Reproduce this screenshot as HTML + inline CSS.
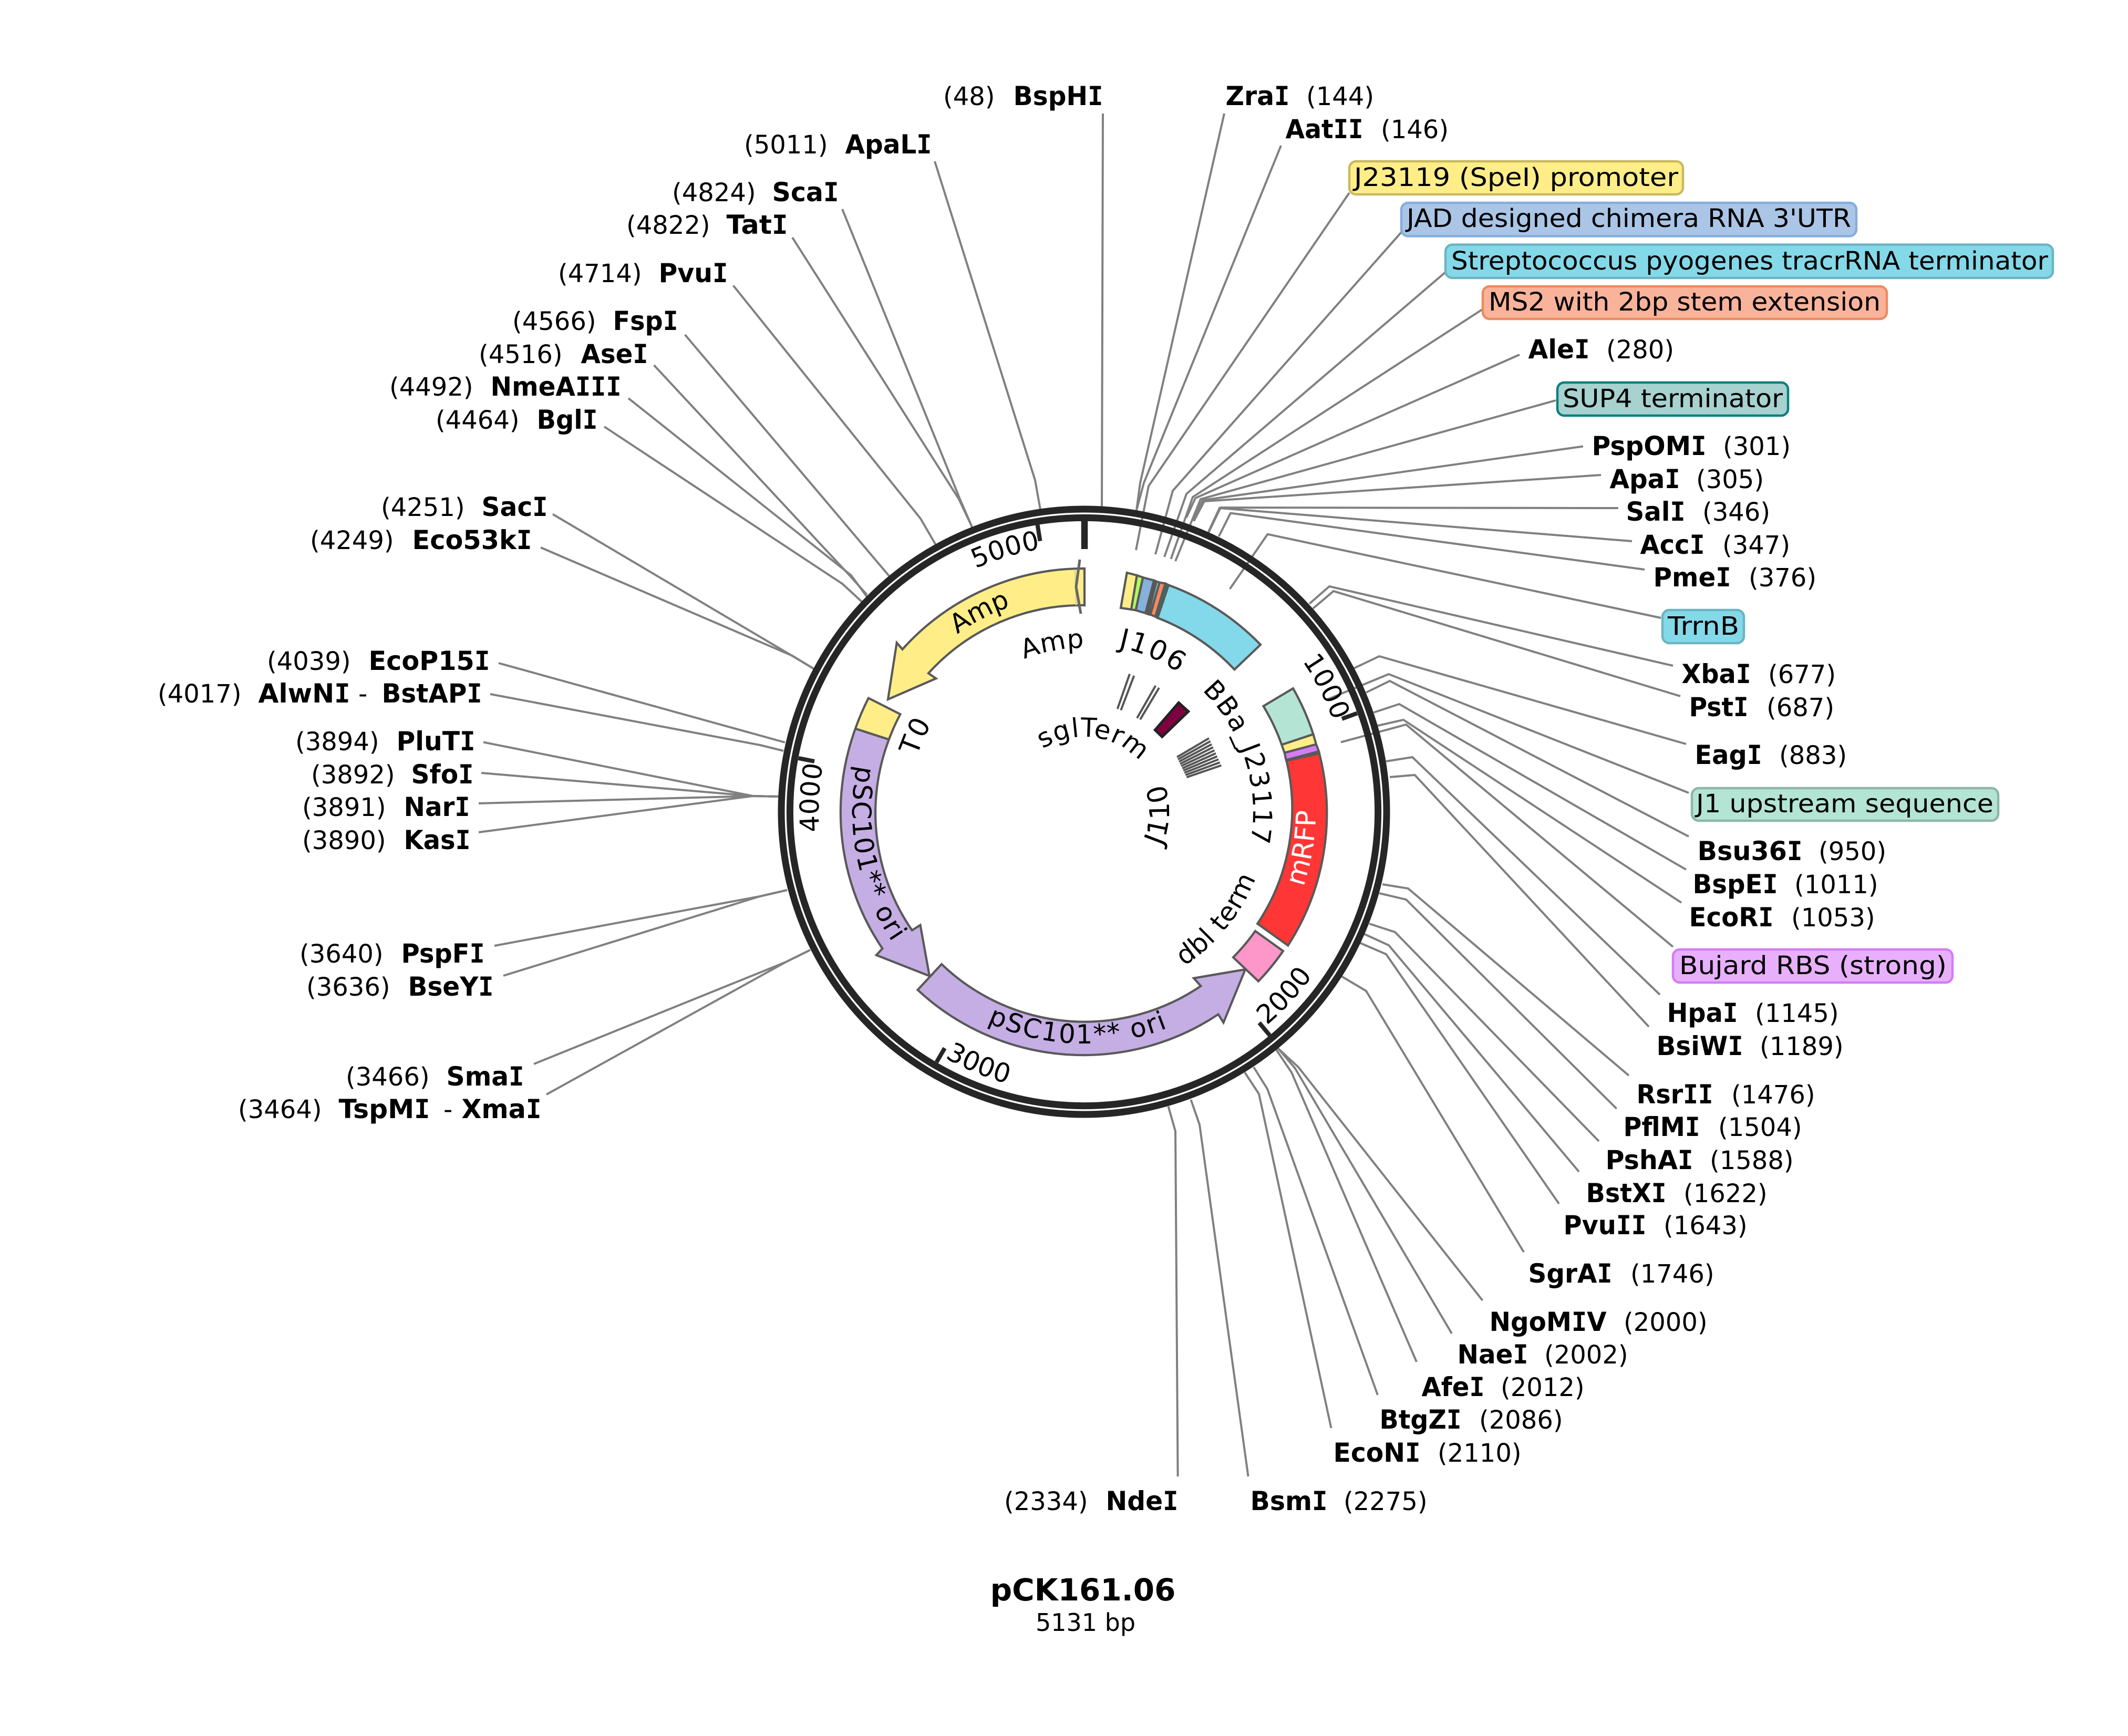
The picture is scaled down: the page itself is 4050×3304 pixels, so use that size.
<!DOCTYPE html>
<html><head><meta charset="utf-8"><title>pCK161.06</title>
<style>
html,body{margin:0;padding:0;background:#fff}
svg{display:block}
text{font-family:"DejaVu Sans","Liberation Sans",sans-serif;fill:#000}
.b{font-weight:bold;font-size:50px}
.n{font-size:48px}
.t{font-size:48px}
.c{font-size:50px}
tspan.m{font-family:"DejaVu Sans Mono","DejaVu Sans",monospace;font-weight:bold}
.l polyline{fill:none;stroke:#808080;stroke-width:4}
.f path,.f polygon{stroke:#595959;stroke-width:4.2;stroke-linejoin:miter}
.s line{stroke:#555;stroke-width:4}
.tk line{stroke:#262626;stroke-width:8}
</style></head><body>
<svg xmlns="http://www.w3.org/2000/svg" width="4050" height="3304" viewBox="0 0 4050 3304">
<defs>
<path id="w507" d="M1556,1545A507 507 0 0 1 2570,1545"/>
<path id="w505" d="M1558,1545A505 505 0 0 1 2568,1545"/>
<path id="w415" d="M1648,1545A415 415 0 0 1 2478,1545"/>
<path id="w312" d="M1751,1545A312 312 0 0 1 2375,1545"/>
<path id="w320" d="M1743,1545A320 320 0 0 1 2383,1545"/>
<path id="w322" d="M1741,1545A322 322 0 0 1 2385,1545"/>
<path id="w143" d="M1920,1545A143 143 0 0 1 2206,1545"/>
<path id="w335" d="M1728,1545A335 335 0 0 1 2398,1545"/>
<path id="i535" d="M1528,1545A535 535 0 0 0 2598,1545"/>
<path id="i538" d="M1525,1545A538 538 0 0 0 2601,1545"/>
<path id="i162" d="M1901,1545A162 162 0 0 0 2225,1545"/>
<path id="i350" d="M1713,1545A350 350 0 0 0 2413,1545"/>
<path id="i441" d="M1622,1545A441 441 0 0 0 2504,1545"/>
</defs>

<!-- leader lines -->
<g class="l">
<polyline points="2330,216 2170,919 2163,971"/>
<polyline points="2438,277 2177,919 2163,971"/>
<polyline points="2568,367 2186,925 2162,1047"/>
<polyline points="2667,442 2232,934 2199,1055"/>
<polyline points="2751,518 2258,940 2216,1060"/>
<polyline points="2821,589 2270,946 2228.5,1064"/>
<polyline points="2892,675 2275,948 2258,985"/>
<polyline points="2961,762 2285,950 2237,1068"/>
<polyline points="3013,849.5 2289,952 2270,990"/>
<polyline points="3047,904 2292,954 2272,992"/>
<polyline points="3080,967 2323,966 2297,1020"/>
<polyline points="3106,1030 2321,967 2300,1012"/>
<polyline points="3130,1084 2342,976.5 2319.6,1021"/>
<polyline points="3161,1176 2412.5,1016.7 2340.6,1121"/>
<polyline points="3184,1267 2530,1116 2492,1149"/>
<polyline points="3198,1325 2538,1125 2499,1158"/>
<polyline points="3209,1416 2625,1249 2576.6,1272"/>
<polyline points="3214,1509 2643,1283 2524,1332"/>
<polyline points="3214,1592 2645,1296 2600,1318"/>
<polyline points="3209,1655 2663,1340 2614.5,1356"/>
<polyline points="3200,1718 2671,1370 2618,1382"/>
<polyline points="3184,1802 2676,1379 2552,1412.6"/>
<polyline points="3159,1893 2688,1441 2638,1449"/>
<polyline points="3138,1954 2692.6,1475 2645,1479"/>
<polyline points="3100,2047 2680,1691 2631,1683"/>
<polyline points="3076.6,2110 2676,1712 2625,1700"/>
<polyline points="3043,2172 2655,1774 2606,1758"/>
<polyline points="3005,2230 2643,1799 2595,1777"/>
<polyline points="2967,2291 2638,1816 2587,1794"/>
<polyline points="2900,2383 2600,1886 2553,1858"/>
<polyline points="2821.5,2475 2471,2031 2432,1995"/>
<polyline points="2763,2538 2464.6,2033 2432,1995"/>
<polyline points="2696,2592 2458,2041 2429,1998"/>
<polyline points="2622,2655 2412,2072.5 2386,2031"/>
<polyline points="2533.5,2718 2396,2082 2369,2041"/>
<polyline points="2375.6,2810 2283,2140.5 2266.5,2093"/>
<polyline points="2241.6,2810 2237,2153 2223.5,2105.6"/>
<polyline points="2099,216 2097,970"/>
<polyline points="1779,307 1970,914 1980,970"/>
<polyline points="1603,398 1827,950 1850,1003"/>
<polyline points="1508,452 1825,950 1850,1003"/>
<polyline points="1395.6,543.5 1752,987 1781,1037"/>
<polyline points="1303.6,637 1692,1096"/>
<polyline points="1244.6,695 1615,1093 1650,1132"/>
<polyline points="1196,758 1620,1095 1650,1136"/>
<polyline points="1150,812 1603,1111 1640,1145"/>
<polyline points="1052,978.6 1504,1246 1549,1273"/>
<polyline points="1029,1042 1508,1248 1549,1273"/>
<polyline points="949,1262 1494,1413"/>
<polyline points="933,1321 1446.4,1418 1491,1429"/>
<polyline points="920,1412.6 1433,1515 1482,1516"/>
<polyline points="916,1471 1433,1515 1482,1516"/>
<polyline points="911,1529 1433,1515 1482,1516"/>
<polyline points="911,1584 1433,1515 1482,1516"/>
<polyline points="941,1800 1446,1706 1498,1694"/>
<polyline points="958,1857 1446,1706 1498,1694"/>
<polyline points="1016,2025 1495.5,1831 1542,1808"/>
<polyline points="1040,2083 1495.5,1831 1542,1808"/>
</g>

<!-- backbone -->
<circle cx="2063" cy="1545" r="576" fill="none" stroke="#262626" stroke-width="13"/>
<circle cx="2063" cy="1545" r="559.6" fill="none" stroke="#262626" stroke-width="13"/>
<line x1="2064" y1="991" x2="2064" y2="1045" stroke="#262626" stroke-width="12.5"/>
<g class="tk">
<line x1="2554" y1="1368" x2="2583" y2="1357.5"/>
<line x1="2396.5" y1="1946.5" x2="2416.5" y2="1970.4"/>
<line x1="1798" y1="1994.8" x2="1782.4" y2="2021.5"/>
<line x1="1550" y1="1449" x2="1519.5" y2="1443"/>
<line x1="1979.5" y1="1029.8" x2="1974.6" y2="999"/>
</g>

<!-- features -->
<g class="f">
<path fill="#ffee88" d="M2064,1082A463 463 0 0 0 1717.5,1235.8L1706.7,1223.3L1690,1331L1781.4,1291.3L1767,1281.4A393 393 0 0 1 2064,1152Z"/>
<path fill="#c4aee4" d="M1628,1386.7L1691.8,1407.4A393 393 0 0 0 1735.8,1770.5L1751.5,1760.6L1769,1857.6L1667.8,1817.8L1679.4,1805.3A463 463 0 0 1 1628,1386.7Z"/>
<path fill="#c4aee4" d="M1792,1835L1746.5,1884A463 463 0 0 0 2318.6,1930.5L2328.5,1946.3L2370,1845L2272,1861.7L2285.4,1876.6A393 393 0 0 1 1792,1835Z"/>
<path fill="#ffee88" d="M1652.9,1328.6L1713.4,1359.3A393 393 0 0 0 1691.8,1407.4L1628,1386.7A463 463 0 0 1 1652.9,1328.6Z"/>
<polygon fill="#ffee88" points="2144.7,1090 2163.8,1095 2153,1160 2133,1157"/>
<polygon fill="#b1f95e" points="2163.8,1095 2175.3,1099 2161.5,1161.4 2153,1160"/>
<polygon fill="#85b1dc" points="2175.3,1099 2196.3,1104.7 2180,1167 2161.5,1161.4"/>
<polygon fill="#555" points="2196.3,1104.7 2200.9,1106.7 2185.6,1169 2180,1167"/>
<polygon fill="#83d8e9" points="2200.9,1106.7 2206.7,1108.6 2189.4,1169.8 2185.6,1169"/>
<polygon fill="#f58a5e" points="2206.7,1108.6 2218,1110.5 2199,1173.6 2189.4,1169.8"/>
<polygon fill="#0a8080" points="2218,1110.5 2224,1113.5 2203,1176 2199,1173.6"/>
<path fill="#83d8e9" d="M2224,1113.5A463 463 0 0 1 2399,1227L2349.4,1274.3A393 393 0 0 0 2203,1176Z"/>
<path fill="#b4e5d4" d="M2461,1310.2A463 463 0 0 1 2499.4,1397.5L2439.3,1417.4A393 393 0 0 0 2404.5,1343.9Z"/>
<polygon fill="#ffee88" points="2499.4,1397.5 2505,1416.6 2444.7,1432.7 2439.3,1417.4"/>
<polygon fill="#d57cf5" points="2505,1416.6 2510,1430 2447.7,1446.5 2444.7,1432.7"/>
<path fill="#ff3636" d="M2510.9,1433.9A463 463 0 0 1 2451.3,1799.5L2393.2,1758A393 393 0 0 0 2448.5,1448Z"/>
<path fill="#fd96c9" d="M2389,1772L2442,1810A463 463 0 0 1 2395,1867.5L2347,1822A393 393 0 0 0 2389,1772Z"/>
</g>
<line x1="2046" y1="1084" x2="2048" y2="1152" stroke="#d8cf8f" stroke-width="2.5"/>
<polyline points="2055,1065 2048,1117 2057,1168" fill="none" stroke="#666" stroke-width="5"/>

<!-- inner track -->
<g class="s">
<line x1="2150" y1="1282.7" x2="2126.7" y2="1349.3"/>
<line x1="2158.3" y1="1286" x2="2133.3" y2="1351.7"/>
<line x1="2199.3" y1="1305" x2="2164" y2="1366.7"/>
<line x1="2206" y1="1309" x2="2170" y2="1369.3"/>
<line x1="2240" y1="1441" x2="2301" y2="1405"/>
<line x1="2242" y1="1445.3" x2="2303.6" y2="1410.7"/>
<line x1="2244.1" y1="1449.5" x2="2306.2" y2="1416.5"/>
<line x1="2246.1" y1="1453.8" x2="2308.8" y2="1422.2"/>
<line x1="2248.1" y1="1458" x2="2311.4" y2="1428"/>
<line x1="2250.2" y1="1462.3" x2="2314" y2="1433.7"/>
<line x1="2252.2" y1="1466.5" x2="2316.5" y2="1439.5"/>
<line x1="2254.2" y1="1470.8" x2="2319.1" y2="1445.2"/>
<line x1="2256.3" y1="1475" x2="2321.7" y2="1451"/>
<line x1="2258.3" y1="1479.3" x2="2324.3" y2="1456.7"/>
</g>
<polygon points="2243.3,1337.3 2261.7,1354 2211.7,1402.3 2198.3,1389.3" fill="#7f003f" stroke="#222" stroke-width="5"/>

<!-- curved labels -->
<g class="c" text-anchor="middle">
<g transform="rotate(-16.7 2063 1545)"><text letter-spacing="0.5"><textPath href="#w507" startOffset="50%">5000</textPath></text></g>
<g transform="rotate(62.7 2063 1545)"><text letter-spacing="0.5"><textPath href="#w505" startOffset="50%">1000</textPath></text></g>
<g transform="rotate(-87 2063 1545)"><text letter-spacing="0.5"><textPath href="#w505" startOffset="50%">4000</textPath></text></g>
<g transform="rotate(-47.5 2063 1545)"><text letter-spacing="0.5"><textPath href="#i535" startOffset="50%">2000</textPath></text></g>
<g transform="rotate(22.6 2063 1545)"><text letter-spacing="0.5"><textPath href="#i538" startOffset="50%">3000</textPath></text></g>
<g transform="rotate(-27.6 2063 1545)"><text><textPath href="#w415" startOffset="50%">Amp</textPath></text></g>
<g transform="rotate(-10.6 2063 1545)"><text letter-spacing="1"><textPath href="#w312" startOffset="50%">Amp</textPath></text></g>
<g transform="rotate(23.3 2063 1545)"><text style="font-size:52px" letter-spacing="3.5"><textPath href="#w320" startOffset="50%">J106</textPath></text></g>
<g transform="rotate(72.5 2063 1545)"><text letter-spacing="2"><textPath href="#w322" startOffset="50%">BBa_J23117</textPath></text></g>
<g transform="rotate(7.5 2063 1545)"><text letter-spacing="1.5"><textPath href="#w143" startOffset="50%">sglTerm</textPath></text></g>
<g transform="rotate(-65.6 2063 1545)"><text style="font-size:52px" letter-spacing="3"><textPath href="#w335" startOffset="50%">T0</textPath></text></g>
<g transform="rotate(-88 2063 1545)"><text style="font-size:52px" letter-spacing="2.5"><textPath href="#i162" startOffset="50%">J110</textPath></text></g>
<g transform="rotate(-51 2063 1545)"><text letter-spacing="1"><textPath href="#i350" startOffset="50%">dbl term</textPath></text></g>
<g transform="rotate(78.5 2063 1545)"><text letter-spacing="2.5"><textPath href="#i441" startOffset="50%">pSC101** ori</textPath></text></g>
<g transform="rotate(1.6 2063 1545)"><text letter-spacing="2.5"><textPath href="#i441" startOffset="50%">pSC101** ori</textPath></text></g>
<g transform="rotate(-80.7 2063 1545)"><text style="fill:#fff;font-size:52px"><textPath href="#i441" startOffset="50%">mRFP</textPath></text></g>
</g>

<!-- feature tags -->
<g stroke-width="4.5">
<rect x="2568" y="307" width="635" height="63" rx="13" fill="#ffee88" stroke="#c8ba60"/>
<rect x="2667" y="386" width="866" height="63.5" rx="13" fill="#aac5e6" stroke="#85aedb"/>
<rect x="2751" y="465.6" width="1156" height="63.4" rx="13" fill="#84d9e9" stroke="#6cb4c2"/>
<rect x="2822" y="545" width="769" height="62" rx="13" fill="#f9b39b" stroke="#ef8a61"/>
<rect x="2964" y="728" width="439" height="63" rx="13" fill="#a7d2cf" stroke="#0a8080"/>
<rect x="3164" y="1161" width="155" height="63" rx="13" fill="#84d9e9" stroke="#6cb4c2"/>
<rect x="3220" y="1500" width="583" height="62" rx="13" fill="#b4e5d4" stroke="#8fb6a8"/>
<rect x="3184" y="1807" width="532" height="63" rx="13" fill="#e8b0fc" stroke="#d57cf5"/>
</g>
<g class="t">
<text x="2577" y="354" textLength="617" lengthAdjust="spacingAndGlyphs">J23119 (SpeI) promoter</text>
<text x="2677" y="432" textLength="846" lengthAdjust="spacingAndGlyphs">JAD designed chimera RNA 3'UTR</text>
<text x="2762" y="513" textLength="1136" lengthAdjust="spacingAndGlyphs">Streptococcus pyogenes tracrRNA terminator</text>
<text x="2833" y="591" textLength="746" lengthAdjust="spacingAndGlyphs">MS2 with 2bp stem extension</text>
<text x="2974" y="775" textLength="419" lengthAdjust="spacingAndGlyphs">SUP4 terminator</text>
<text x="3174" y="1208" textLength="136" lengthAdjust="spacingAndGlyphs">TrrnB</text>
<text x="3228" y="1546" textLength="566" lengthAdjust="spacingAndGlyphs">J1 upstream sequence</text>
<text x="3196" y="1854" textLength="509" lengthAdjust="spacingAndGlyphs">Bujard RBS (strong)</text>
</g>

<!-- enzyme names -->
<g class="b" transform="translate(-1.5,0)">
<text x="2334" y="200" textLength="122" lengthAdjust="spacingAndGlyphs">Zra<tspan class="m">I</tspan></text>
<text x="2448" y="263" textLength="148" lengthAdjust="spacingAndGlyphs">Aat<tspan class="m">II</tspan></text>
<text x="2910" y="682" textLength="117" lengthAdjust="spacingAndGlyphs">Ale<tspan class="m">I</tspan></text>
<text x="3031" y="866" textLength="218" lengthAdjust="spacingAndGlyphs">PspOM<tspan class="m">I</tspan></text>
<text x="3065" y="929" textLength="134" lengthAdjust="spacingAndGlyphs">Apa<tspan class="m">I</tspan></text>
<text x="3096" y="991" textLength="113" lengthAdjust="spacingAndGlyphs">Sal<tspan class="m">I</tspan></text>
<text x="3123" y="1054" textLength="123" lengthAdjust="spacingAndGlyphs">Acc<tspan class="m">I</tspan></text>
<text x="3148" y="1116" textLength="148" lengthAdjust="spacingAndGlyphs">Pme<tspan class="m">I</tspan></text>
<text x="3202" y="1300" textLength="132" lengthAdjust="spacingAndGlyphs">Xba<tspan class="m">I</tspan></text>
<text x="3216" y="1363" textLength="113" lengthAdjust="spacingAndGlyphs">Pst<tspan class="m">I</tspan></text>
<text x="3227" y="1454" textLength="128" lengthAdjust="spacingAndGlyphs">Eag<tspan class="m">I</tspan></text>
<text x="3232" y="1637" textLength="200" lengthAdjust="spacingAndGlyphs">Bsu36<tspan class="m">I</tspan></text>
<text x="3223" y="1700" textLength="162" lengthAdjust="spacingAndGlyphs">BspE<tspan class="m">I</tspan></text>
<text x="3216" y="1763" textLength="161" lengthAdjust="spacingAndGlyphs">EcoR<tspan class="m">I</tspan></text>
<text x="3174" y="1945" textLength="135" lengthAdjust="spacingAndGlyphs">Hpa<tspan class="m">I</tspan></text>
<text x="3154" y="2008" textLength="165" lengthAdjust="spacingAndGlyphs">BsiW<tspan class="m">I</tspan></text>
<text x="3116" y="2100" textLength="146" lengthAdjust="spacingAndGlyphs">Rsr<tspan class="m">II</tspan></text>
<text x="3091" y="2162" textLength="146" lengthAdjust="spacingAndGlyphs">PflM<tspan class="m">I</tspan></text>
<text x="3057" y="2225" textLength="167" lengthAdjust="spacingAndGlyphs">PshA<tspan class="m">I</tspan></text>
<text x="3020" y="2288" textLength="153" lengthAdjust="spacingAndGlyphs">BstX<tspan class="m">I</tspan></text>
<text x="2977" y="2349" textLength="158" lengthAdjust="spacingAndGlyphs">Pvu<tspan class="m">II</tspan></text>
<text x="2910" y="2441" textLength="160" lengthAdjust="spacingAndGlyphs">SgrA<tspan class="m">I</tspan></text>
<text x="2836" y="2533" textLength="223" lengthAdjust="spacingAndGlyphs">NgoM<tspan class="m">I</tspan>V</text>
<text x="2775" y="2595" textLength="135" lengthAdjust="spacingAndGlyphs">Nae<tspan class="m">I</tspan></text>
<text x="2707" y="2657" textLength="120" lengthAdjust="spacingAndGlyphs">Afe<tspan class="m">I</tspan></text>
<text x="2627" y="2719" textLength="156" lengthAdjust="spacingAndGlyphs">BtgZ<tspan class="m">I</tspan></text>
<text x="2539" y="2782" textLength="166" lengthAdjust="spacingAndGlyphs">EcoN<tspan class="m">I</tspan></text>
<text x="2381" y="2874" textLength="147" lengthAdjust="spacingAndGlyphs">Bsm<tspan class="m">I</tspan></text>
<text x="2106" y="2874" textLength="138" lengthAdjust="spacingAndGlyphs">Nde<tspan class="m">I</tspan></text>
<text x="1930" y="200" textLength="171" lengthAdjust="spacingAndGlyphs">BspH<tspan class="m">I</tspan></text>
<text x="1610" y="292" textLength="165" lengthAdjust="spacingAndGlyphs">ApaL<tspan class="m">I</tspan></text>
<text x="1471" y="383" textLength="127" lengthAdjust="spacingAndGlyphs">Sca<tspan class="m">I</tspan></text>
<text x="1384" y="445" textLength="117" lengthAdjust="spacingAndGlyphs">Tat<tspan class="m">I</tspan></text>
<text x="1255" y="537" textLength="132" lengthAdjust="spacingAndGlyphs">Pvu<tspan class="m">I</tspan></text>
<text x="1168" y="628" textLength="124" lengthAdjust="spacingAndGlyphs">Fsp<tspan class="m">I</tspan></text>
<text x="1107" y="691" textLength="128" lengthAdjust="spacingAndGlyphs">Ase<tspan class="m">I</tspan></text>
<text x="935" y="753" textLength="249" lengthAdjust="spacingAndGlyphs">NmeA<tspan class="m">III</tspan></text>
<text x="1023" y="816" textLength="116" lengthAdjust="spacingAndGlyphs">Bgl<tspan class="m">I</tspan></text>
<text x="918" y="982" textLength="126" lengthAdjust="spacingAndGlyphs">Sac<tspan class="m">I</tspan></text>
<text x="786" y="1045" textLength="228" lengthAdjust="spacingAndGlyphs">Eco53k<tspan class="m">I</tspan></text>
<text x="703" y="1275" textLength="231" lengthAdjust="spacingAndGlyphs">EcoP15<tspan class="m">I</tspan></text>
<text x="493" y="1337" textLength="175" lengthAdjust="spacingAndGlyphs">AlwN<tspan class="m">I</tspan></text>
<text x="728" y="1337" textLength="191" lengthAdjust="spacingAndGlyphs">BstAP<tspan class="m">I</tspan></text>
<text x="756" y="1428" textLength="150" lengthAdjust="spacingAndGlyphs">PluT<tspan class="m">I</tspan></text>
<text x="784" y="1491" textLength="119" lengthAdjust="spacingAndGlyphs">Sfo<tspan class="m">I</tspan></text>
<text x="770" y="1553" textLength="126" lengthAdjust="spacingAndGlyphs">Nar<tspan class="m">I</tspan></text>
<text x="770" y="1616" textLength="127" lengthAdjust="spacingAndGlyphs">Kas<tspan class="m">I</tspan></text>
<text x="765" y="1832" textLength="159" lengthAdjust="spacingAndGlyphs">PspF<tspan class="m">I</tspan></text>
<text x="778" y="1895" textLength="163" lengthAdjust="spacingAndGlyphs">BseY<tspan class="m">I</tspan></text>
<text x="851" y="2066" textLength="148" lengthAdjust="spacingAndGlyphs">Sma<tspan class="m">I</tspan></text>
<text x="646" y="2128" textLength="174" lengthAdjust="spacingAndGlyphs">TspM<tspan class="m">I</tspan></text>
<text x="880" y="2128" textLength="152" lengthAdjust="spacingAndGlyphs">Xma<tspan class="m">I</tspan></text>
</g>

<!-- positions -->
<g class="n" transform="translate(-3,0)">
<text x="2489" y="200">(144)</text>
<text x="2631" y="263">(146)</text>
<text x="3060" y="682">(280)</text>
<text x="3282" y="866">(301)</text>
<text x="3231" y="929">(305)</text>
<text x="3243" y="991">(346)</text>
<text x="3281" y="1054">(347)</text>
<text x="3331" y="1116">(376)</text>
<text x="3368" y="1300">(677)</text>
<text x="3365" y="1363">(687)</text>
<text x="3389" y="1454">(883)</text>
<text x="3464" y="1637">(950)</text>
<text x="3418" y="1700">(1011)</text>
<text x="3412" y="1763">(1053)</text>
<text x="3343" y="1945">(1145)</text>
<text x="3352" y="2008">(1189)</text>
<text x="3298" y="2100">(1476)</text>
<text x="3273" y="2162">(1504)</text>
<text x="3257" y="2225">(1588)</text>
<text x="3207" y="2288">(1622)</text>
<text x="3169" y="2349">(1643)</text>
<text x="3106" y="2441">(1746)</text>
<text x="3093" y="2533">(2000)</text>
<text x="2942" y="2595">(2002)</text>
<text x="2859" y="2657">(2012)</text>
<text x="2818" y="2719">(2086)</text>
<text x="2739" y="2782">(2110)</text>
<text x="2560" y="2874">(2275)</text>
<text x="1914" y="2874">(2334)</text>
<text x="1798" y="200">(48)</text>
<text x="1419" y="292">(5011)</text>
<text x="1282" y="383">(4824)</text>
<text x="1195" y="445">(4822)</text>
<text x="1065" y="537">(4714)</text>
<text x="978" y="628">(4566)</text>
<text x="914" y="691">(4516)</text>
<text x="744" y="753">(4492)</text>
<text x="832" y="816">(4464)</text>
<text x="728" y="982">(4251)</text>
<text x="593" y="1045">(4249)</text>
<text x="511" y="1275">(4039)</text>
<text x="303" y="1337">(4017)</text>
<text x="685" y="1337">-</text>
<text x="565" y="1428">(3894)</text>
<text x="595" y="1491">(3892)</text>
<text x="578" y="1553">(3891)</text>
<text x="578" y="1616">(3890)</text>
<text x="573" y="1832">(3640)</text>
<text x="586" y="1895">(3636)</text>
<text x="661" y="2066">(3466)</text>
<text x="456" y="2128">(3464)</text>
<text x="847" y="2128">-</text>
</g>

<text x="2061" y="3046" text-anchor="middle" font-weight="bold" font-size="58">pCK161.06</text>
<text x="2066" y="3104" text-anchor="middle" font-size="46">5131 bp</text>
</svg>
</body></html>
